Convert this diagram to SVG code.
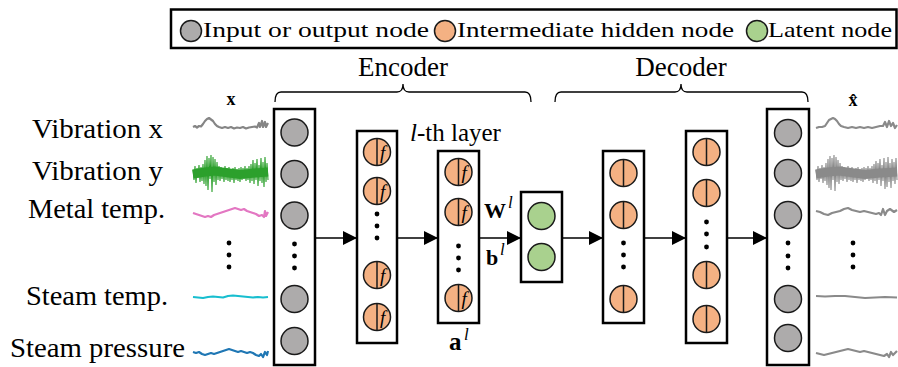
<svg xmlns="http://www.w3.org/2000/svg" width="898" height="367" viewBox="0 0 898 367" font-family="'Liberation Serif', 'Times New Roman', serif">
  <style>
    text, tspan { font-family: 'Liberation Serif', 'Times New Roman', serif; fill: #000; }
    .lbl { font-size: 27px; }
    .leg { font-size: 22px; }
    .hdr { font-size: 27px; text-anchor: middle; }
    .box { fill: #fff; stroke: #000; stroke-width: 2.5; }
    .gry { fill: #adabab; stroke: #1a1a1a; stroke-width: 1.5; }
    .org { fill: #f4b183; stroke: #1a1a1a; stroke-width: 1.5; }
    .grn { fill: #a9d18e; stroke: #1a1a1a; stroke-width: 1.5; }
    .div { stroke: #1a1a1a; stroke-width: 1.5; }
    .fn { font-size: 19px; font-style: italic; }
    .dot { fill: #000; }
    .brace { fill: none; stroke: #000; stroke-width: 1.3; }
    .arr { stroke: #000; stroke-width: 1.5; marker-end: url(#head); }
    .sig { fill: none; stroke-width: 2.2; stroke-linejoin: round; }
    .noise { fill: none; stroke-width: 1.1; }
    .out { stroke: #8a8a8a; }
  </style>
  <defs>
    <marker id="head" markerUnits="userSpaceOnUse" markerWidth="14" markerHeight="14" refX="14" refY="7" orient="auto">
      <path d="M0,0 L14,7 L0,14 z" fill="#000"/>
    </marker>
    <g id="hid">
      <circle class="org" cx="0" cy="0" r="13.5"/>
      <line class="div" x1="0" y1="-13.5" x2="0" y2="13.5"/>
    </g>
    <g id="hidf">
      <use href="#hid"/>
      <text class="fn" x="3" y="6.5">f</text>
    </g>
    <circle id="io" class="gry" cx="0" cy="0" r="13.5"/>
    <circle id="lat" class="grn" cx="0" cy="0" r="13.5"/>
  </defs>

  <!-- legend -->
  <g id="legend">
    <rect x="171" y="9.5" width="725.5" height="38.5" fill="#fff" stroke="#000" stroke-width="2.5"/>
    <circle class="gry" cx="191" cy="31" r="10.5"/>
    <text class="leg" x="203" y="37" textLength="226" lengthAdjust="spacingAndGlyphs">Input or output node</text>
    <circle class="org" cx="445" cy="31" r="10.5"/>
    <text class="leg" x="457" y="37" textLength="277" lengthAdjust="spacingAndGlyphs">Intermediate hidden node</text>
    <circle class="grn" cx="757" cy="31" r="10.5"/>
    <text class="leg" x="768" y="37" textLength="124" lengthAdjust="spacingAndGlyphs">Latent node</text>
  </g>

  <!-- encoder / decoder braces -->
  <g id="headers">
    <text class="hdr" x="403" y="76">Encoder</text>
    <text class="hdr" x="681" y="76">Decoder</text>
    <path class="brace" d="M275,102 Q275,92 281,92 L397,92 Q403,92 403,84 Q403,92 409,92 L525,92 Q531,92 531,102"/>
    <path class="brace" d="M555,102 Q555,92 561,92 L675,92 Q681,92 681,84 Q681,92 687,92 L802,92 Q808,92 808,102"/>
  </g>

  <!-- sensor labels -->
  <g id="labels">
    <text class="lbl" x="32" y="138" textLength="131" lengthAdjust="spacingAndGlyphs">Vibration x</text>
    <text class="lbl" x="32" y="180" textLength="131" lengthAdjust="spacingAndGlyphs">Vibration y</text>
    <text class="lbl" x="28" y="218" textLength="137" lengthAdjust="spacingAndGlyphs">Metal temp.</text>
    <text class="lbl" x="26" y="305" textLength="142" lengthAdjust="spacingAndGlyphs">Steam temp.</text>
    <text class="lbl" x="10" y="357" textLength="175" lengthAdjust="spacingAndGlyphs">Steam pressure</text>
    <circle class="dot" cx="229" cy="243" r="2.4"/>
    <circle class="dot" cx="229" cy="255" r="2.4"/>
    <circle class="dot" cx="229" cy="267" r="2.4"/>
    <text x="231" y="105" font-size="18" font-weight="bold" text-anchor="middle">x</text>
    <text x="853" y="106" font-size="18" font-weight="bold" text-anchor="middle">x̂</text>
  </g>

  <!-- input signals -->
  <g id="signals-in">
    <path class="sig" stroke="#858585" d="M193,127 L195,126 L197,127.5 L199,126 L201,126.5 L203,124 L205,121 L207,119 L209,118 L211,119.5 L213,121 L215,124 L217,126 L219,127 L222,128 L225,127 L228,128 L231,127 L234,128.5 L237,127.5 L240,128 L243,127 L246,128.5 L249,127.5 L252,127 L255,126.5 L257,127.5 L259,123 L260,127 L262,121 L263,127 L265,122 L266,127 L268,123"/>
    <path class="noise" stroke="#2ca02c" stroke-width="1.4" d="M193,170 L194,180 L195,166 L196,183 L197,168 L198,178 L199,165 L200,182 L201,167 L202,181 L203,164 L204,184 L205,160 L206,186 L207,156 L208,190 L209,158 L210,179 L211,155 L212,192 L213,157 L214,182 L215,159 L216,185 L217,162 L218,180 L219,166 L220,181 L221,167 L222,179 L223,168 L224,182 L225,166 L226,180 L227,168 L228,181 L229,167 L230,182 L231,169 L232,180 L233,168 L234,183 L235,167 L236,180 L237,169 L238,181 L239,168 L240,182 L241,167 L242,180 L243,168 L244,179 L245,166 L246,181 L247,168 L248,180 L249,166 L250,183 L251,164 L252,181 L253,160 L254,184 L255,163 L256,180 L257,159 L258,186 L259,165 L260,181 L261,158 L262,183 L263,162 L264,187 L265,157 L266,182 L267,163 L268,180"/>
    <path fill="none" stroke="#2ca02c" stroke-width="9" d="M193,174 L205,172 L215,171 L240,174.5 L255,173 L268,172"/>
    <path class="sig" stroke="#e377c2" d="M193,213 L196,214 L199,215 L202,216 L205,217 L208,216 L211,217 L214,215 L217,214 L220,213 L223,212 L226,211 L229,210 L232,209 L235,208 L238,209 L241,210 L244,209 L247,211 L250,212 L253,213 L256,214 L259,216 L262,215 L264,217 L265,211 L266,216 L268,212"/>
    <path class="sig" stroke="#17becf" d="M193,297 L198,297.5 L203,298 L208,297 L213,296.5 L218,297 L223,297.5 L228,296 L233,295.5 L238,296 L243,296.5 L248,297 L253,297.5 L258,297 L263,297.5 L268,297"/>
    <path class="sig" stroke="#1f77b4" d="M193,352 L196,353 L199,352 L202,354 L205,355 L208,354 L211,353 L214,354 L217,353 L220,352 L223,351 L226,350 L229,349 L232,350 L235,351 L238,352 L241,351 L244,352 L247,353 L250,352 L253,353 L256,355 L259,356 L261,354 L263,357 L265,352 L267,355 L268,351"/>
  </g>

  <!-- reconstructed signals -->
  <g id="signals-out">
    <path class="sig out" d="M816,128 L819,127 L822,127 L825,126 L827,123 L829,120 L831,119 L833,118 L835,119 L837,121 L839,124 L841,126 L844,127 L848,128 L852,127 L856,128 L860,127 L864,128 L868,127 L872,128 L876,127 L880,126 L883,126 L885,122 L887,127 L889,121 L891,126 L893,123 L895,128 L897,125"/>
    <path class="noise out" stroke-width="1.4" d="M816,170 L817,180 L818,166 L819,182 L820,168 L821,179 L822,165 L823,183 L824,167 L825,181 L826,163 L827,185 L828,159 L829,188 L830,156 L831,190 L832,158 L833,180 L834,155 L835,191 L836,157 L837,182 L838,160 L839,184 L840,163 L841,180 L842,166 L843,181 L844,167 L845,179 L846,168 L847,182 L848,166 L849,180 L850,168 L851,181 L852,167 L853,182 L854,169 L855,180 L856,168 L857,183 L858,167 L859,180 L860,169 L861,181 L862,168 L863,182 L864,167 L865,180 L866,168 L867,179 L868,166 L869,181 L870,168 L871,180 L872,166 L873,183 L874,164 L875,181 L876,161 L877,184 L878,163 L879,180 L880,159 L881,186 L882,165 L883,181 L884,158 L885,189 L886,162 L887,187 L888,157 L889,182 L890,163 L891,188 L892,159 L893,181 L894,162 L895,184 L896,158 L897,180"/>
    <path fill="none" stroke="#8a8a8a" stroke-width="9" d="M816,174 L828,172 L840,171 L865,174.5 L880,173 L897,172"/>
    <path class="sig out" d="M816,211 L820,212 L824,214 L828,215 L832,213 L836,212 L840,211 L844,209 L848,208 L852,210 L856,211 L860,212 L864,211 L868,212 L872,213 L876,214 L879,213 L881,215 L883,209 L885,215 L887,211 L890,209 L894,212 L897,210"/>
    <path class="sig out" d="M816,296 L825,296.5 L835,296 L845,296 L855,297 L865,298 L875,297.5 L885,297 L897,297.5"/>
    <path class="sig out" d="M816,353 L820,354 L824,355 L828,354 L832,353 L836,352 L840,351 L844,350 L848,349 L852,350 L856,351 L860,352 L864,351 L868,352 L872,353 L876,354 L880,355 L884,356 L887,354 L889,357 L891,352 L893,355 L897,351"/>
    <circle class="dot" cx="853" cy="243" r="2.4"/>
    <circle class="dot" cx="853" cy="255" r="2.4"/>
    <circle class="dot" cx="853" cy="267" r="2.4"/>
  </g>

  <!-- connectors -->
  <g id="connectors">
    <line class="arr" x1="315" y1="238" x2="357" y2="238"/>
    <line class="arr" x1="397" y1="238" x2="438" y2="238"/>
    <line class="arr" x1="479" y1="238" x2="521" y2="238"/>
    <line class="arr" x1="562" y1="238" x2="603" y2="238"/>
    <line class="arr" x1="644" y1="238" x2="686" y2="238"/>
    <line class="arr" x1="727" y1="238" x2="767" y2="238"/>
  </g>

  <!-- input layer -->
  <g id="input-layer">
    <rect class="box" x="274" y="109" width="41" height="256"/>
    <use href="#io" x="294.5" y="132.5"/>
    <use href="#io" x="294.5" y="174"/>
    <use href="#io" x="294.5" y="215.5"/>
    <circle class="dot" cx="294.5" cy="244" r="2.4"/>
    <circle class="dot" cx="294.5" cy="256" r="2.4"/>
    <circle class="dot" cx="294.5" cy="268" r="2.4"/>
    <use href="#io" x="294.5" y="299"/>
    <use href="#io" x="294.5" y="341"/>
  </g>

  <!-- encoder hidden layer 1 -->
  <g id="enc-hidden-1">
    <rect class="box" x="357" y="131" width="40" height="212"/>
    <use href="#hidf" x="377" y="152"/>
    <use href="#hidf" x="377" y="191"/>
    <circle class="dot" cx="377" cy="214" r="2.4"/>
    <circle class="dot" cx="377" cy="226" r="2.4"/>
    <circle class="dot" cx="377" cy="238" r="2.4"/>
    <use href="#hidf" x="377" y="275"/>
    <use href="#hidf" x="377" y="317"/>
  </g>

  <!-- encoder hidden layer l -->
  <g id="enc-hidden-l">
    <text x="410" y="141" font-size="25"><tspan font-style="italic">l</tspan>-th layer</text>
    <rect class="box" x="438" y="151" width="41" height="172"/>
    <use href="#hidf" x="458.5" y="172"/>
    <use href="#hidf" x="458.5" y="212"/>
    <circle class="dot" cx="458.5" cy="246" r="2.4"/>
    <circle class="dot" cx="458.5" cy="258" r="2.4"/>
    <circle class="dot" cx="458.5" cy="270" r="2.4"/>
    <use href="#hidf" x="458.5" y="298"/>
    <text x="449" y="350" font-size="25" font-weight="bold">a</text>
    <text x="464" y="340" font-size="17" font-style="italic">l</text>
  </g>

  <!-- latent layer -->
  <g id="latent-layer">
    <text x="484" y="218" font-size="22" font-weight="bold">W</text>
    <text x="508" y="208" font-size="17" font-style="italic">l</text>
    <text x="486" y="265" font-size="22" font-weight="bold">b</text>
    <text x="500" y="255" font-size="17" font-style="italic">l</text>
    <rect class="box" x="521" y="192" width="41" height="90"/>
    <use href="#lat" x="541.5" y="216"/>
    <use href="#lat" x="541.5" y="257"/>
  </g>

  <!-- decoder hidden layer 1 -->
  <g id="dec-hidden-1">
    <rect class="box" x="603" y="151" width="41" height="172"/>
    <use href="#hid" x="623.5" y="173"/>
    <use href="#hid" x="623.5" y="215"/>
    <circle class="dot" cx="623.5" cy="243" r="2.4"/>
    <circle class="dot" cx="623.5" cy="255" r="2.4"/>
    <circle class="dot" cx="623.5" cy="267" r="2.4"/>
    <use href="#hid" x="623.5" y="299"/>
  </g>

  <!-- decoder hidden layer 2 -->
  <g id="dec-hidden-2">
    <rect class="box" x="686" y="131" width="41" height="212"/>
    <use href="#hid" x="706.5" y="152"/>
    <use href="#hid" x="706.5" y="193"/>
    <circle class="dot" cx="706.5" cy="222" r="2.4"/>
    <circle class="dot" cx="706.5" cy="234" r="2.4"/>
    <circle class="dot" cx="706.5" cy="247" r="2.4"/>
    <use href="#hid" x="706.5" y="275"/>
    <use href="#hid" x="706.5" y="319"/>
  </g>

  <!-- output layer -->
  <g id="output-layer">
    <rect class="box" x="767" y="109" width="42" height="256"/>
    <use href="#io" x="788" y="133"/>
    <use href="#io" x="788" y="173"/>
    <use href="#io" x="788" y="215"/>
    <circle class="dot" cx="788" cy="243" r="2.4"/>
    <circle class="dot" cx="788" cy="256" r="2.4"/>
    <circle class="dot" cx="788" cy="268" r="2.4"/>
    <use href="#io" x="788" y="299"/>
    <use href="#io" x="788" y="338"/>
  </g>
</svg>
